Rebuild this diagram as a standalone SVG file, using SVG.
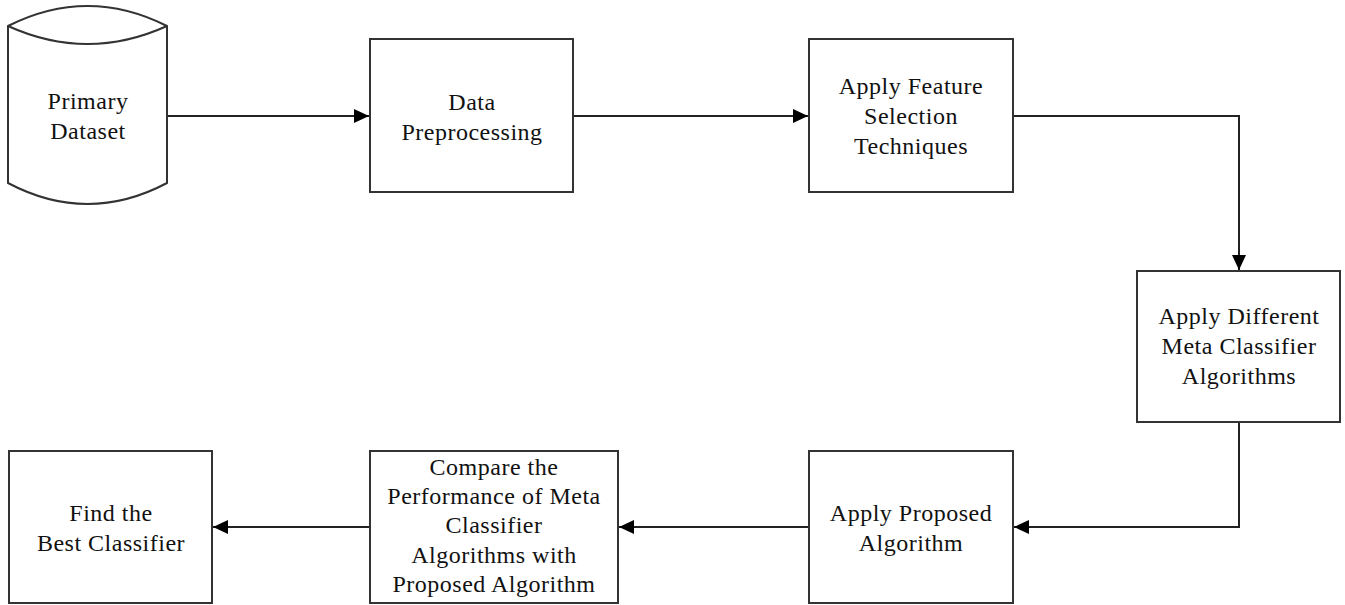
<svg xmlns="http://www.w3.org/2000/svg" width="1345" height="605" viewBox="0 0 1345 605">
<style>
.box{fill:#fff;stroke:#333;stroke-width:2}
.lbl{font-family:"Liberation Serif","Times New Roman",serif;font-size:24px;letter-spacing:0.5px;fill:#111;text-anchor:middle}
.con{fill:none;stroke:#222;stroke-width:2}
</style>
<defs>
<marker id="ah" markerWidth="16" markerHeight="14" refX="15" refY="7" orient="auto" markerUnits="userSpaceOnUse">
<path d="M0,0 L15,7 L0,14 Z" fill="#000"/>
</marker>
</defs>
<rect width="1345" height="605" fill="#fff"/>
<g id="connectors">
<path class="con" d="M167,116 H369" marker-end="url(#ah)"/>
<path class="con" d="M573,116 H808" marker-end="url(#ah)"/>
<path class="con" d="M1013,116 H1239 V270" marker-end="url(#ah)"/>
<path class="con" d="M1239,422 V527 H1014" marker-end="url(#ah)"/>
<path class="con" d="M809,527 H619" marker-end="url(#ah)"/>
<path class="con" d="M370,527 H213" marker-end="url(#ah)"/>
</g>
<g id="primary-dataset">
<path class="box" d="M8,26 Q87.5,-14 167,26 L167,183 Q87.5,225 8,183 Z"/>
<path class="con" style="stroke:#333" d="M8,26 Q87.5,62 167,26"/>
<text class="lbl" x="88" y="109">Primary</text>
<text class="lbl" x="88" y="139">Dataset</text>
</g>
<g id="data-preprocessing">
<rect class="box" x="370" y="39" width="203" height="153"/>
<text class="lbl" x="472" y="110">Data</text>
<text class="lbl" x="472" y="140">Preprocessing</text>
</g>
<g id="feature-selection">
<rect class="box" x="809" y="39" width="204" height="153"/>
<text class="lbl" x="911" y="94">Apply Feature</text>
<text class="lbl" x="911" y="124">Selection</text>
<text class="lbl" x="911" y="154">Techniques</text>
</g>
<g id="meta-classifiers">
<rect class="box" x="1137" y="271" width="203" height="151"/>
<text class="lbl" x="1239" y="324">Apply Different</text>
<text class="lbl" x="1239" y="354">Meta Classifier</text>
<text class="lbl" x="1239" y="384">Algorithms</text>
</g>
<g id="proposed-algorithm">
<rect class="box" x="809" y="451" width="204" height="152"/>
<text class="lbl" x="911" y="521">Apply Proposed</text>
<text class="lbl" x="911" y="551">Algorithm</text>
</g>
<g id="compare-performance">
<rect class="box" x="370" y="451" width="248" height="152"/>
<text class="lbl" x="494" y="475">Compare the</text>
<text class="lbl" x="494" y="504">Performance of Meta</text>
<text class="lbl" x="494" y="533">Classifier</text>
<text class="lbl" x="494" y="563">Algorithms with</text>
<text class="lbl" x="494" y="592">Proposed Algorithm</text>
</g>
<g id="best-classifier">
<rect class="box" x="9" y="451" width="203" height="152"/>
<text class="lbl" x="111" y="521">Find the</text>
<text class="lbl" x="111" y="551">Best Classifier</text>
</g>
</svg>
